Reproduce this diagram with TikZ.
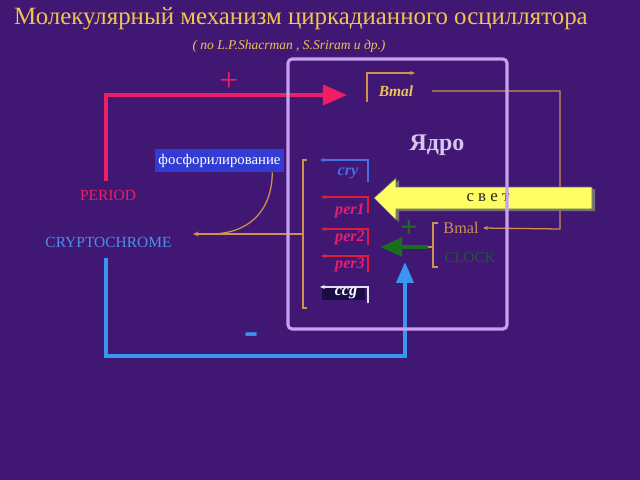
\documentclass[tikz,border=0pt]{standalone}
\usepackage{fontspec}
\setmainfont{Liberation Serif}
\usetikzlibrary{arrows.meta,calc}
\definecolor{bg}{RGB}{64,24,116}
\definecolor{gold}{RGB}{240,196,80}
\definecolor{pinkred}{RGB}{238,30,100}
\definecolor{skyblue}{RGB}{58,150,240}
\definecolor{cryptoblue}{RGB}{80,140,230}
\definecolor{lav}{RGB}{200,160,240}
\definecolor{nucltext}{RGB}{215,195,240}
\definecolor{tanc}{RGB}{205,145,80}
\definecolor{phosblue}{RGB}{50,60,210}
\definecolor{genered}{RGB}{220,30,60}
\definecolor{genepink}{RGB}{232,30,110}
\definecolor{geneblue}{RGB}{70,110,230}
\definecolor{genewhite}{RGB}{230,220,245}
\definecolor{dgreen}{RGB}{25,110,30}
\definecolor{clockgreen}{RGB}{35,85,55}
\definecolor{yel}{RGB}{255,255,100}
\definecolor{ccgbg}{RGB}{28,12,70}
\begin{document}
\begin{tikzpicture}[x=0.025cm,y=-0.025cm,
  txt/.style={inner sep=0pt},
  titlestyle/.style={txt,text=gold,font=\fontsize{17.7}{21}\selectfont},
  substyle/.style={txt,text=gold,font=\fontsize{9.6}{11}\selectfont\itshape},
  genetxt/.style={txt,font=\fontsize{11.5}{14}\selectfont\bfseries\itshape},
  tanline/.style={draw=tanc,line width=0.9pt},
  genearrow/.style={line width=0.9pt,-{Stealth[length=3.5pt,width=3pt]}},
  pinkline/.style={draw=pinkred,line width=2.8pt,-{Triangle[length=0.6cm,width=0.5cm]}},
  blueline/.style={draw=skyblue,line width=2.8pt,-{Triangle[length=0.52cm,width=0.42cm]}},
  greenline/.style={draw=dgreen,line width=3.2pt,-{Triangle[length=0.55cm,width=0.45cm]}},
  nucbox/.style={draw=lav,line width=2.2pt,rounded corners=3pt,minimum width=5.475cm,minimum height=6.75cm,inner sep=0pt},
  phosbox/.style={fill=phosblue,text=white,font=\fontsize{10.5}{12}\selectfont,minimum width=3.225cm,minimum height=0.575cm,inner sep=0pt}
]
\useasboundingbox (0,0) rectangle (640,480);
\fill[bg] (0,0) rectangle (640,480);

% titles
\node[titlestyle] (title) at (301,19) {Молекулярный механизм циркадианного осциллятора};
\node[substyle] (sub) at (289,46) {( по L.P.Shacrman , S.Sriram и др.)};

% coordinates
\coordinate (pA) at (106,181);
\coordinate (pinktip) at (347,95);
\coordinate (bA) at (106,258);
\coordinate (bB) at (405,356);
\coordinate (bluetip) at (405,262);
\coordinate (phosEnd) at (193,234);
\coordinate (gmid) at (303,234);
\coordinate (bmR) at (432,91);
\coordinate (bmCorner) at (560,229);
\coordinate (rmid) at (433,247);
\coordinate (greentip) at (380,247);

% labels outside
\node[txt,text=pinkred,font=\fontsize{11}{13}\selectfont] (period) at (108,195) {PERIOD};
\node[txt,text=cryptoblue,font=\fontsize{11}{13}\selectfont] (crypto) at (108.5,242) {CRYPTOCHROME};
\node[txt,text=pinkred,font=\fontsize{24}{24}\selectfont] (plus1) at (229,82) {+};
\node[txt,text=skyblue,font=\fontsize{30}{30}\selectfont\bfseries] (minus) at (252,339) {-};
\node[phosbox] (phos) at (219.5,160.5) {фосфорилирование};

% pink and blue arrows
\draw[pinkline] (pA) |- (pinktip);
\draw[blueline] (bA) |- (bB) -- (bluetip);

% Bmal loop
\node[genetxt,text=gold,font=\fontsize{11}{13}\selectfont\bfseries\itshape] (bmalT) at (396,91) {Bmal};
\draw[tanline,genearrow] (367,102) |- (415,73);
\node[txt,text=tanc,font=\fontsize{11.5}{13}\selectfont] (bmal2) at (461,228) {Bmal};
\node[txt,text=clockgreen,font=\fontsize{10.7}{13}\selectfont] (clock) at (470,258) {CLOCK};
\draw[tanline,-{Stealth[length=3.5pt,width=3pt]}] (bmR) -| (bmCorner) -- ([xshift=3pt]bmal2.east);

% right bracket + green arrow
\draw[tanline] (438,223) -- (433,223) -- (433,267) -- (438,267);
\draw[tanline] (rmid) -- (428,247);
\draw[greenline] (428,247) -- (greentip);
\node[txt,text=dgreen,font=\fontsize{22}{22}\selectfont\bfseries] (plus2) at (409,229) {+};

% gene bracket and phosphorylation
\draw[tanline] (307,160) -- (303,160) -- (303,308) -- (307,308);
\draw[tanline,-{Stealth[length=4pt,width=3.5pt]}] (gmid) -- (phosEnd);
\draw[tanline] ([shift={(-12,0)}]phos.south east) .. controls (272,212) and (248,234) .. (210,234);

% genes
\draw[geneblue,genearrow] (368,182) |- (320,160);
\node[genetxt,text=geneblue] (cry) at (348,173) {cry};
\draw[genered,genearrow] (368,213) |- (321,197);
\node[genetxt,text=genepink] (per1) at (350,211) {per1};
\draw[genered,genearrow] (368,245) |- (321,229);
\node[genetxt,text=genepink] (per2) at (350,238) {per2};
\draw[genered,genearrow] (368,272) |- (321,256);
\node[genetxt,text=genepink] (per3) at (350,265) {per3};
\fill[ccgbg] (322,288) rectangle (365,300);
\draw[genewhite,genearrow] (368,303) |- (320,287);
\node[genetxt,text=white] (ccg) at (346,293) {ccg};

% yellow light arrow
\fill[black!55] (377,200) -- (399,180) -- (399,189) -- (595,189) -- (595,211) -- (399,211) -- (399,222) -- cycle;
\filldraw[fill=yel,draw=black!60,line width=0.5pt] (374,198) -- (396,178) -- (396,187) -- (592,187) -- (592,209) -- (396,209) -- (396,220) -- cycle;
\node[txt,text=black!85,font=\fontsize{12}{14}\selectfont] (svet) at (488,198) {с в е т};

% nucleus
\node[nucbox] (nucleus) at (397.5,194) {};
\node[txt,text=nucltext,font=\fontsize{17}{20}\selectfont\bfseries] (yadro) at (437,145) {Ядро};
\end{tikzpicture}
\end{document}
